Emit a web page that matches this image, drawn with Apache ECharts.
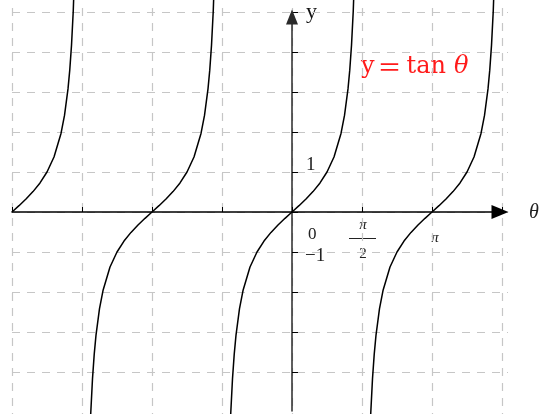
<!DOCTYPE html>
<html>
<head>
<meta charset="utf-8">
<script src="https://cdn.jsdelivr.net/npm/echarts@6/dist/echarts.min.js"></script>
<style>
  html, body { margin: 0; padding: 0; background: #fff; }
  #chart { width: 544px; height: 414px; }
</style>
</head>
<body>
<div id="chart"></div>
<script>
// Horizontal unit: θ measured in multiples of π/2.
// Each branch of y = tan θ is centred on a zero of the function.
const branchCenters = [-4, -2, 0, 2];
const offsets   = [-0.9, -0.875, -0.85, -0.825, -0.8, -0.75, -0.7, -0.6, -0.5, -0.4, -0.3, -0.2, -0.1, 0,
                    0.1, 0.2, 0.3, 0.4, 0.5, 0.6, 0.7, 0.75, 0.8, 0.825, 0.85, 0.875, 0.9];
const tanValues = [-6.314, -5.027, -4.165, -3.546, -3.078, -2.414, -1.963, -1.376, -1, -0.727, -0.51, -0.325, -0.158, 0,
                    0.158, 0.325, 0.51, 0.727, 1, 1.376, 1.963, 2.414, 3.078, 3.546, 4.165, 5.027, 6.314];

// Axis ranges (θ in π/2 units, y in plain units)
const xGridRange = [-4, 3];        // vertical dashed lines
const yGridRange = [-4, 5];        // horizontal dashed lines
const xAxisRange = [-4, 2.9714];   // θ axis line up to the arrow
const yAxisRange = [-4.975, 4.875];// y axis line up to the arrow

const serif = '"Liberation Serif", "DejaVu Serif", serif';
const wideSerif = '"DejaVu Serif", serif';
const cjk = '"Noto Sans CJK JP", "Noto Sans CJK SC", sans-serif';
const dash = { color: '#c6c6c6', width: 1.2, type: [8, 7] };

// the left-most branch starts at θ = -2π
function branchData(center) {
  const pts = [];
  offsets.forEach((o, i) => {
    const u = center + o;
    if (u < xAxisRange[0]) return;
    pts.push([u, tanValues[i]]);
  });
  return pts;
}

const chart = echarts.init(document.getElementById('chart'), null, { renderer: 'canvas' });

const option = {
  animation: false,
  backgroundColor: '#fff',
  grid: [
    { left: 12, width: 490, top: 8, bottom: 0 },
    { left: 12, right: 36, top: 12, height: 360 },
    { left: 12, right: 44, top: 17, bottom: 3 }
  ],
  xAxis: [
    {
      gridIndex: 0, type: 'value', min: xGridRange[0], max: xGridRange[1], interval: 1,
      axisLine: { show: false, onZero: true },
      axisTick: { show: true, inside: true, length: 5, lineStyle: { color: '#000', width: 1 } },
      axisLabel: { show: false },
      splitLine: { show: true, lineStyle: dash }
    },
    {
      gridIndex: 1, type: 'value', min: -4, max: 3.0857, show: false
    },
    {
      gridIndex: 2, type: 'value', min: xAxisRange[0], max: xAxisRange[1],
      axisLine: { show: true, onZero: true, symbol: ['none', 'triangle'], symbolSize: [14, 17],
                  lineStyle: { color: '#000', width: 1.5 } },
      axisTick: { show: false }, axisLabel: { show: false }, splitLine: { show: false }
    }
  ],
  yAxis: [
    { gridIndex: 0, type: 'value', min: -5.05, max: 5.1, show: false },
    {
      gridIndex: 1, type: 'value', min: yGridRange[0], max: yGridRange[1], interval: 1,
      axisLine: { show: false, onZero: true },
      axisTick: { show: true, inside: true, length: 6, lineStyle: { color: '#000', width: 1 } },
      axisLabel: { show: false },
      splitLine: { show: true, lineStyle: dash }
    },
    {
      gridIndex: 2, type: 'value', min: yAxisRange[0], max: yAxisRange[1],
      axisLine: { show: true, onZero: true, symbol: ['none', 'triangle'], symbolSize: [12, 15],
                  lineStyle: { color: '#2a2a2a', width: 1.5 } },
      axisTick: { show: false }, axisLabel: { show: false }, splitLine: { show: false }
    }
  ],
  series: branchCenters.map(c => ({
    type: 'line',
    xAxisIndex: 2,
    yAxisIndex: 2,
    data: branchData(c),
    showSymbol: false,
    clip: false,
    smooth: false,
    lineStyle: { color: '#000', width: 1.5 },
    z: 3
  })),
  graphic: [
    { type: 'text', x: 306, y: 12.5, style: { text: 'y', font: '22px ' + serif, fill: '#111', textAlign: 'left', textVerticalAlign: 'middle' } },
    { type: 'text', x: 306, y: 165.5, style: { text: '1', font: '19px ' + serif, fill: '#222', textAlign: 'left', textVerticalAlign: 'middle' } },
    { type: 'text', x: 308, y: 235, style: { text: '0', font: '17px ' + serif, fill: '#222', textAlign: 'left', textVerticalAlign: 'middle' } },
    { type: 'text', x: 305, y: 256.5, style: { text: '−1', font: '19px ' + serif, fill: '#222', textAlign: 'left', textVerticalAlign: 'middle' } },
    { type: 'text', x: 363, y: 225, style: { text: 'π', font: 'italic 15px ' + serif, fill: '#222', textAlign: 'center', textVerticalAlign: 'middle' } },
    { type: 'line', shape: { x1: 349, y1: 238.5, x2: 376, y2: 238.5 }, style: { stroke: '#222', lineWidth: 1 } },
    { type: 'text', x: 363, y: 254, style: { text: '2', font: '15px ' + serif, fill: '#222', textAlign: 'center', textVerticalAlign: 'middle' } },
    { type: 'text', x: 435, y: 238, style: { text: 'π', font: 'italic 15px ' + serif, fill: '#222', textAlign: 'center', textVerticalAlign: 'middle' } },
    { type: 'text', x: 534, y: 213, style: { text: 'θ', font: 'italic 20px ' + serif, fill: '#222', textAlign: 'center', textVerticalAlign: 'middle' } },
    {
      type: 'text', x: 361, y: 67,
      style: {
        text: '{a|y}{e|＝}{a|tan}{b|θ}',
        textAlign: 'left', textVerticalAlign: 'middle',
        rich: {
          a: { font: '24px ' + wideSerif, fill: '#ff1a1a' },
          e: { font: '24px ' + cjk, fill: '#ff1a1a', padding: [0, 5, 0, 3] },
          b: { font: 'italic 24px ' + wideSerif, fill: '#ff1a1a', padding: [0, 0, 0, 8] }
        }
      }
    }
  ]
};

chart.setOption(option);
</script>
</body>
</html>
